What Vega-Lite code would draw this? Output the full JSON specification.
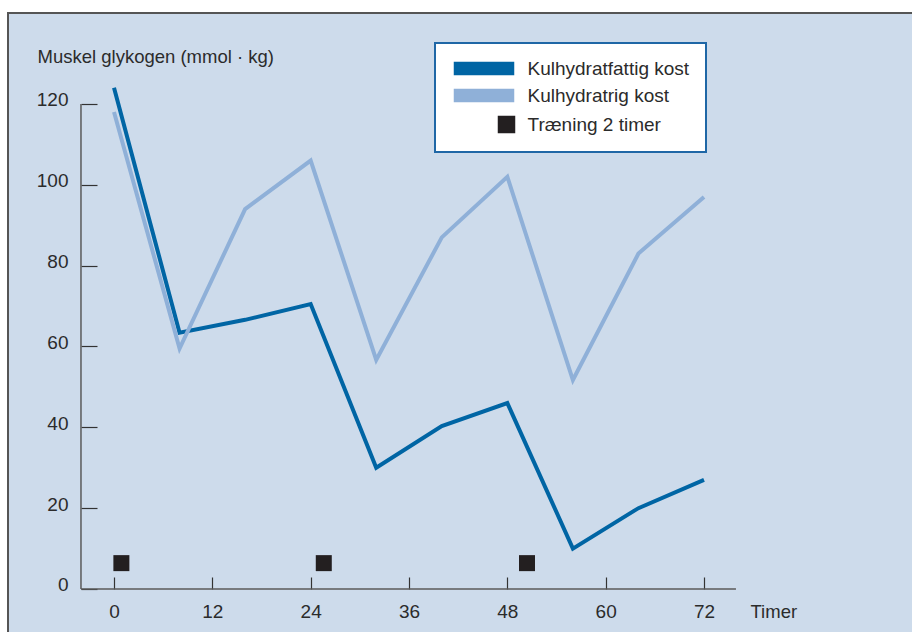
{
  "$schema": "https://vega.github.io/schema/vega-lite/v6.json",
  "autosize": {"type": "none"},
  "padding": {"left": 8, "top": 13, "right": -10, "bottom": -11},
  "width": 914,
  "height": 630,
  "background": "white",
  "config": {
    "view": {"fill": "#cddbeb", "stroke": "#555555", "strokeWidth": 2},
    "font": "Liberation Sans",
    "axis": {
      "grid": false,
      "domain": false,
      "labelFont": "Liberation Sans",
      "labelFontSize": 19,
      "labelColor": "#2b2b2b",
      "tickColor": "#333333",
      "tickWidth": 1.2,
      "titleFont": "Liberation Sans",
      "titleFontWeight": "normal",
      "titleFontSize": 18.5,
      "titleColor": "#2b2b2b"
    },
    "legend": {
      "labelFont": "Liberation Sans",
      "labelFontSize": 19,
      "labelColor": "#2b2b2b",
      "labelLimit": 400
    }
  },
  "datasets": {
    "lines": [
      {"t": 0, "v": 124, "serie": "Kulhydratfattig kost"},
      {"t": 8, "v": 63.4, "serie": "Kulhydratfattig kost"},
      {"t": 16, "v": 66.6, "serie": "Kulhydratfattig kost"},
      {"t": 24, "v": 70.5, "serie": "Kulhydratfattig kost"},
      {"t": 32, "v": 30, "serie": "Kulhydratfattig kost"},
      {"t": 40, "v": 40.3, "serie": "Kulhydratfattig kost"},
      {"t": 48, "v": 46, "serie": "Kulhydratfattig kost"},
      {"t": 56, "v": 10, "serie": "Kulhydratfattig kost"},
      {"t": 64, "v": 20, "serie": "Kulhydratfattig kost"},
      {"t": 72, "v": 27, "serie": "Kulhydratfattig kost"},
      {"t": 0, "v": 118, "serie": "Kulhydratrig kost"},
      {"t": 8, "v": 59.5, "serie": "Kulhydratrig kost"},
      {"t": 16, "v": 94, "serie": "Kulhydratrig kost"},
      {"t": 24, "v": 106, "serie": "Kulhydratrig kost"},
      {"t": 32, "v": 56.7, "serie": "Kulhydratrig kost"},
      {"t": 40, "v": 87, "serie": "Kulhydratrig kost"},
      {"t": 48, "v": 102, "serie": "Kulhydratrig kost"},
      {"t": 56, "v": 51.7, "serie": "Kulhydratrig kost"},
      {"t": 64, "v": 83, "serie": "Kulhydratrig kost"},
      {"t": 72, "v": 97, "serie": "Kulhydratrig kost"}
    ],
    "training": [
      {"t": 0.9, "v": 6.4, "serie": "Træning 2 timer"},
      {"t": 25.6, "v": 6.4, "serie": "Træning 2 timer"},
      {"t": 50.4, "v": 6.4, "serie": "Træning 2 timer"}
    ],
    "axislines": [
      {"t": -4.03, "t2": 75.9, "v": 0, "v2": 0},
      {"t": -4.03, "t2": -4.03, "v": 0, "v2": 120}
    ]
  },
  "encoding": {
    "x": {
      "field": "t",
      "type": "quantitative",
      "scale": {"domain": [-12.936, 98.603], "nice": false, "zero": false},
      "axis": {
        "orient": "bottom",
        "values": [0, 12, 24, 36, 48, 60, 72],
        "offset": -54,
        "tickSize": -12,
        "labelPadding": 25,
        "labelFlush": false,
        "title": "Timer",
        "titleX": 742,
        "titleY": 28,
        "titleAlign": "left",
        "titleBaseline": "alphabetic",
        "titleAnchor": null
      }
    },
    "y": {
      "field": "v",
      "type": "quantitative",
      "scale": {"domain": [-13.361, 142.515], "nice": false, "zero": false},
      "axis": {
        "orient": "left",
        "values": [0, 20, 40, 60, 80, 100, 120],
        "offset": -73,
        "tickSize": -16,
        "labelPadding": 29,
        "labelOffset": -4,
        "labelFlush": false,
        "title": "Muskel glykogen (mmol · kg)",
        "titleAngle": 0,
        "titleX": -44,
        "titleY": 49,
        "titleAlign": "left",
        "titleBaseline": "alphabetic",
        "titleAnchor": null
      }
    }
  },
  "layer": [
    {
      "data": {"name": "axislines"},
      "mark": {"type": "rule", "color": "#5a5a5a", "strokeWidth": 1.5},
      "encoding": {
        "x2": {"field": "t2"},
        "y2": {"field": "v2"}
      }
    },
    {
      "data": {"name": "lines"},
      "mark": {"type": "line", "strokeWidth": 4, "strokeJoin": "miter"},
      "encoding": {
        "color": {
          "field": "serie",
          "type": "nominal",
          "scale": {
            "domain": ["Kulhydratfattig kost", "Kulhydratrig kost", "Træning 2 timer"],
            "range": ["#0065a4", "#8fb0d8", "#231f20"]
          },
          "legend": {
            "title": null,
            "orient": "none",
            "legendX": 427,
            "legendY": 30,
            "fillColor": "white",
            "strokeColor": "#1f67a6",
            "padding": 16,
            "symbolSize": 144,
            "symbolOffset": 23.5,
            "labelOffset": 34,
            "labelLimit": 400,
            "rowPadding": 7,
            "encode": {
              "legend": {"update": {"strokeWidth": {"value": 2}}},
              "symbols": {
                "update": {
                  "shape": {"signal": "datum.value === 'Træning 2 timer' ? 'M2.417,-1.333H5.083V1.333H2.417Z' : 'M-4.917,-1H4.917V1H-4.917Z'"},
                  "fill": {"scale": "color", "field": "value"},
                  "stroke": {"value": "transparent"},
                  "size": {"value": 144},
                  "opacity": {"value": 1}
                }
              }
            }
          }
        },
        "order": {"field": "t"}
      }
    },
    {
      "data": {"name": "training"},
      "mark": {"type": "point", "shape": "square", "filled": true, "size": 256, "opacity": 1},
      "encoding": {
        "color": {"field": "serie", "type": "nominal"}
      }
    }
  ]
}
